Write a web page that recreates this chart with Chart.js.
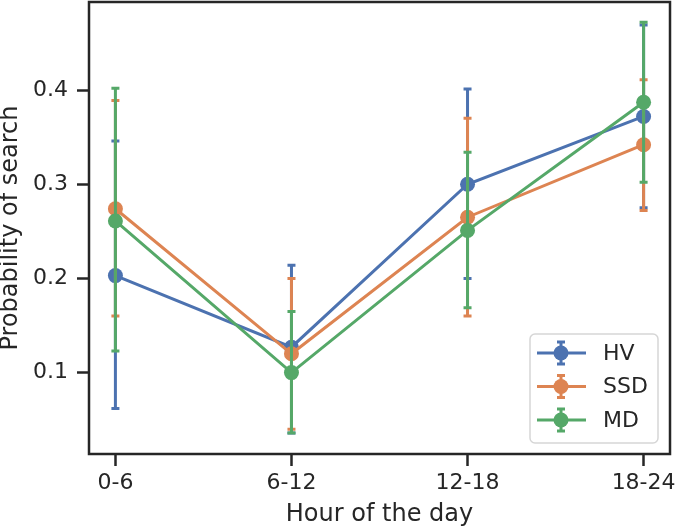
<!DOCTYPE html>
<html>
<head>
<meta charset="utf-8">
<script src="https://cdn.jsdelivr.net/npm/chart.js@4"></script>
<style>
  html, body { margin: 0; padding: 0; background: #fff; }
</style>
</head>
<body>
<canvas id="myChart" width="676" height="529"></canvas>
<script>
const hours = ['0-6', '6-12', '12-18', '18-24'];
const yTicks = [0.1, 0.2, 0.3, 0.4];
const names = ['HV', 'SSD', 'MD'];
const colors = ['#4c72b0', '#dd8452', '#55a868'];

const hvMean = [0.203, 0.127, 0.300, 0.372];
const hvLow = [0.062, 0.036, 0.200, 0.275];
const hvHigh = [0.346, 0.214, 0.401, 0.469];

const ssdMean = [0.274, 0.120, 0.265, 0.342];
const ssdLow = [0.160, 0.040, 0.160, 0.272];
const ssdHigh = [0.389, 0.200, 0.370, 0.411];

const mdMean = [0.261, 0.100, 0.251, 0.387];
const mdLow = [0.123, 0.036, 0.169, 0.302];
const mdHigh = [0.402, 0.165, 0.334, 0.472];

const ink = '#262626';
const fontFamily = "'DejaVu Sans', sans-serif";

// error bars for each group, drawn just before its line
const errorBars = {
    id: 'errorBars',
    beforeDatasetDraw(chart, args) {
        const ds = chart.data.datasets[args.index];
        const xs = chart.scales.x, ys = chart.scales.y;
        const ctx = chart.ctx;
        ctx.save();
        ctx.strokeStyle = ds.borderColor;
        ctx.lineWidth = 3;
        ds.low.forEach((lo, i) => {
            const px = xs.getPixelForValue(i);
            const top = ys.getPixelForValue(ds.high[i]);
            const bot = ys.getPixelForValue(lo);
            ctx.beginPath();
            ctx.moveTo(px, top); ctx.lineTo(px, bot);
            ctx.moveTo(px - 4, top); ctx.lineTo(px + 4, top);
            ctx.moveTo(px - 4, bot); ctx.lineTo(px + 4, bot);
            ctx.stroke();
        });
        ctx.restore();
    }
};

// box around the plot + legend in the lower right corner
const frameAndLegend = {
    id: 'frameAndLegend',
    afterDraw(chart) {
        const ctx = chart.ctx;
        const a = chart.chartArea;
        ctx.save();
        ctx.strokeStyle = ink;
        ctx.lineWidth = 2.5;
        ctx.strokeRect(a.left, a.top, a.right - a.left, a.bottom - a.top);

        const w = 128, h = 109;
        const bx = a.right - 12 - w, by = a.bottom - 11 - h;
        ctx.beginPath();
        ctx.roundRect(bx, by, w, h, 5);
        ctx.fillStyle = 'rgba(255,255,255,0.8)';
        ctx.fill();
        ctx.strokeStyle = '#d6d6d6';
        ctx.lineWidth = 1.5;
        ctx.stroke();

        ctx.font = '22px ' + fontFamily;
        ctx.textBaseline = 'middle';
        chart.data.datasets.forEach((ds, i) => {
            const cy = by + 19 + i * 33.5;
            const cx = bx + 31;
            ctx.strokeStyle = ds.borderColor;
            ctx.lineWidth = 3;
            ctx.beginPath();
            ctx.moveTo(bx + 7, cy); ctx.lineTo(bx + 56, cy);
            ctx.moveTo(cx, cy - 11); ctx.lineTo(cx, cy + 11);
            ctx.moveTo(cx - 4, cy - 11); ctx.lineTo(cx + 4, cy - 11);
            ctx.moveTo(cx - 4, cy + 11); ctx.lineTo(cx + 4, cy + 11);
            ctx.stroke();
            ctx.fillStyle = ds.borderColor;
            ctx.beginPath();
            ctx.arc(cx, cy, 7.5, 0, Math.PI * 2);
            ctx.fill();
            ctx.fillStyle = ink;
            ctx.fillText(ds.label, bx + 73, cy + 1);
        });
        ctx.restore();
    }
};

const means = [hvMean, ssdMean, mdMean];
const lows = [hvLow, ssdLow, mdLow];
const highs = [hvHigh, ssdHigh, mdHigh];

let thisChart = new Chart(document.getElementById('myChart').getContext('2d'), {
    type: 'line',
    data: {
        datasets: names.map((name, k) => ({
            label: name,
            data: means[k].map((v, i) => ({ x: i, y: v })),
            low: lows[k],
            high: highs[k],
            borderColor: colors[k],
            backgroundColor: colors[k],
            borderWidth: 3,
            pointRadius: 7.5,
            pointBorderWidth: 0,
            pointBackgroundColor: colors[k],
            tension: 0,
            order: names.length - k,
            clip: false
        }))
    },
    options: {
        responsive: false,
        animation: false,
        layout: { autoPadding: false, padding: { top: 2, right: 6, left: 0, bottom: 0 } },
        plugins: {
            legend: { display: false },
            tooltip: { enabled: false }
        },
        scales: {
            x: {
                type: 'linear',
                min: -0.15,
                max: 3.15,
                afterBuildTicks: s => { s.ticks = hours.map((h, i) => ({ value: i })); },
                afterFit: s => { s.height = 75; s.paddingLeft = 0; s.paddingRight = 0; },
                ticks: {
                    callback: v => hours[v],
                    font: { family: fontFamily, size: 22 },
                    color: ink,
                    padding: 4,
                    maxRotation: 0,
                    autoSkip: false
                },
                grid: { drawOnChartArea: false, tickLength: 12, tickWidth: 2.5, tickColor: ink },
                border: { display: false },
                title: {
                    display: true,
                    text: 'Hour of the day',
                    font: { family: fontFamily, size: 24 },
                    color: ink,
                    padding: { top: 0, bottom: 0 }
                }
            },
            y: {
                type: 'linear',
                min: 0.0136,
                max: 0.4935,
                afterBuildTicks: s => { s.ticks = yTicks.map(v => ({ value: v })); },
                afterFit: s => { s.width = 89; s.paddingTop = 0; s.paddingBottom = 0; },
                ticks: {
                    callback: v => v.toFixed(1),
                    font: { family: fontFamily, size: 22 },
                    color: ink,
                    padding: 9
                },
                grid: { drawOnChartArea: false, tickLength: 12, tickWidth: 2.5, tickColor: ink },
                border: { display: false },
                title: {
                    display: true,
                    text: 'Probability of search',
                    font: { family: fontFamily, size: 24, lineHeight: 0.92 },
                    color: ink,
                    padding: { top: 0, bottom: 0 }
                }
            }
        }
    },
    plugins: [errorBars, frameAndLegend]
});
</script>
</body>
</html>
